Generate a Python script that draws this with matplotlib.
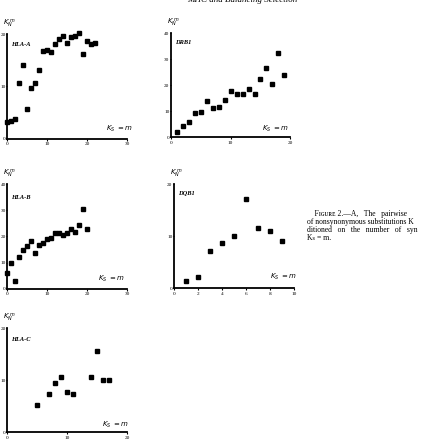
import matplotlib
matplotlib.use("Agg")
import matplotlib.pyplot as plt

plt.rcParams['font.family'] = ['Liberation Serif', 'DejaVu Serif']

# ---- data ----
hla_a_x = list(range(0, 23))
hla_a_y = [3.1, 3.4, 3.7, 10.7, 14.0, 5.7, 9.7, 10.7, 13.2, 16.7, 16.9, 16.6,
           18.0, 19.1, 19.7, 18.2, 19.4, 19.6, 20.1, 16.2, 18.7, 18.0, 18.2]

drb1_x = list(range(1, 20))
drb1_y = [2.0, 4.2, 6.0, 9.2, 9.7, 14.1, 11.3, 11.8, 14.4, 17.9, 16.5, 16.8,
          18.5, 16.5, 22.3, 26.8, 20.5, 32.6, 23.8]

hla_b_x = list(range(0, 21))
hla_b_y = [5.9, 9.9, 3.1, 12.2, 14.8, 16.3, 18.3, 13.5, 16.6, 17.3, 18.9, 19.4,
           21.1, 21.4, 20.6, 21.4, 22.7, 21.7, 24.2, 30.3, 22.7]

dqb1_x = [1, 2, 3, 4, 5, 6, 7, 8, 9]
dqb1_y = [1.4, 2.1, 7.2, 8.7, 10.0, 17.2, 11.5, 11.0, 9.0]

hla_c_x = [5, 7, 8, 9, 10, 11, 14, 15, 16, 17]
hla_c_y = [5.1, 7.3, 9.5, 10.6, 7.7, 7.3, 10.6, 15.6, 10.0, 10.0]

panels = [
    # name, x, y, xlim, ylim, xticks, yticks, rect(px: left, top, right, bottom), name_y, ks_pos
    ("HLA-A", hla_a_x, hla_a_y, 30, 20, [0, 10, 20, 30], [0, 10, 20],
     (7.3, 34, 127.3, 138.7), 0.90, (0.82, 0.09)),
    ("DRB1", drb1_x, drb1_y, 20, 40, [0, 10, 20], [0, 10, 20, 30, 40],
     (171, 33.3, 290.3, 137.3), 0.91, (0.76, 0.08)),
    ("HLA-B", hla_b_x, hla_b_y, 30, 40, [0, 10, 20, 30], [0, 10, 20, 30, 40],
     (7.3, 184, 127.3, 288.7), 0.873, (0.76, 0.095)),
    ("DQB1", dqb1_x, dqb1_y, 10, 20, [0, 2, 4, 6, 8, 10], [0, 10, 20],
     (174, 184, 294.3, 288), 0.913, (0.80, 0.105)),
    ("HLA-C", hla_c_x, hla_c_y, 20, 20, [0, 10, 20], [0, 10, 20],
     (7.3, 328, 127.3, 432), 0.89, (0.79, 0.07)),
]

W, H = 428, 446
fig = plt.figure(figsize=(W / 100, H / 100), dpi=100)

for name, xs, ys, xmax, ymax, xt, yt, (l, t, r, b), ny, (kx, ky) in panels:
    ax = fig.add_axes([l / W, 1 - b / H, (r - l) / W, (b - t) / H])
    ax.plot(xs, ys, linestyle='none', marker='s', markersize=2.3,
            color='black', clip_on=False)
    ax.set_xlim(0, xmax)
    ax.set_ylim(0, ymax)
    ax.set_xticks(xt)
    ax.set_yticks(yt)
    ax.tick_params(axis='x', labelsize=3.8, length=1.2, width=0.8, pad=1.5,
                   colors='black')
    ax.tick_params(axis='y', labelsize=3.8, length=1.0, width=0.8, pad=0.2,
                   colors='black')
    for s in ('top', 'right'):
        ax.spines[s].set_visible(False)
    for s in ('left', 'bottom'):
        ax.spines[s].set_linewidth(1.3)
    ax.patch.set_visible(False)
    ax.text(0.03, ny, name, transform=ax.transAxes, fontsize=4.6,
            fontstyle='italic', fontweight='bold', va='center', ha='left')
    ax.text(kx, ky, r'$K_S$ $=m$', transform=ax.transAxes, fontsize=5,
            va='center', ha='left')
    # y-axis label K_N^m above the axis
    fig.text((l - 4) / W, 1 - (t - 10) / H, r'$K_N^{\ m}$', fontsize=5,
             va='center', ha='left')

# partially cropped running title
fig.text(242 / W, 1.0, 'MHC and Balancing Selection', fontsize=6.5,
         fontstyle='italic', ha='center', va='center')

# caption (cropped at right edge), one text block
caption = ('    Fɪɢᴜʀᴇ 2.—A,   The   pairwise\n'
           'of nonsynonymous substitutions K\n'
           'ditioned   on   the   number   of   syn\n'
           'Kₛ = m.')
fig.text(307 / W, 1 - 210.5 / H, caption, fontsize=5.5, ha='left', va='top',
         linespacing=0.98, family=['Liberation Serif', 'DejaVu Serif'])

fig.savefig('out.png', dpi=100)
